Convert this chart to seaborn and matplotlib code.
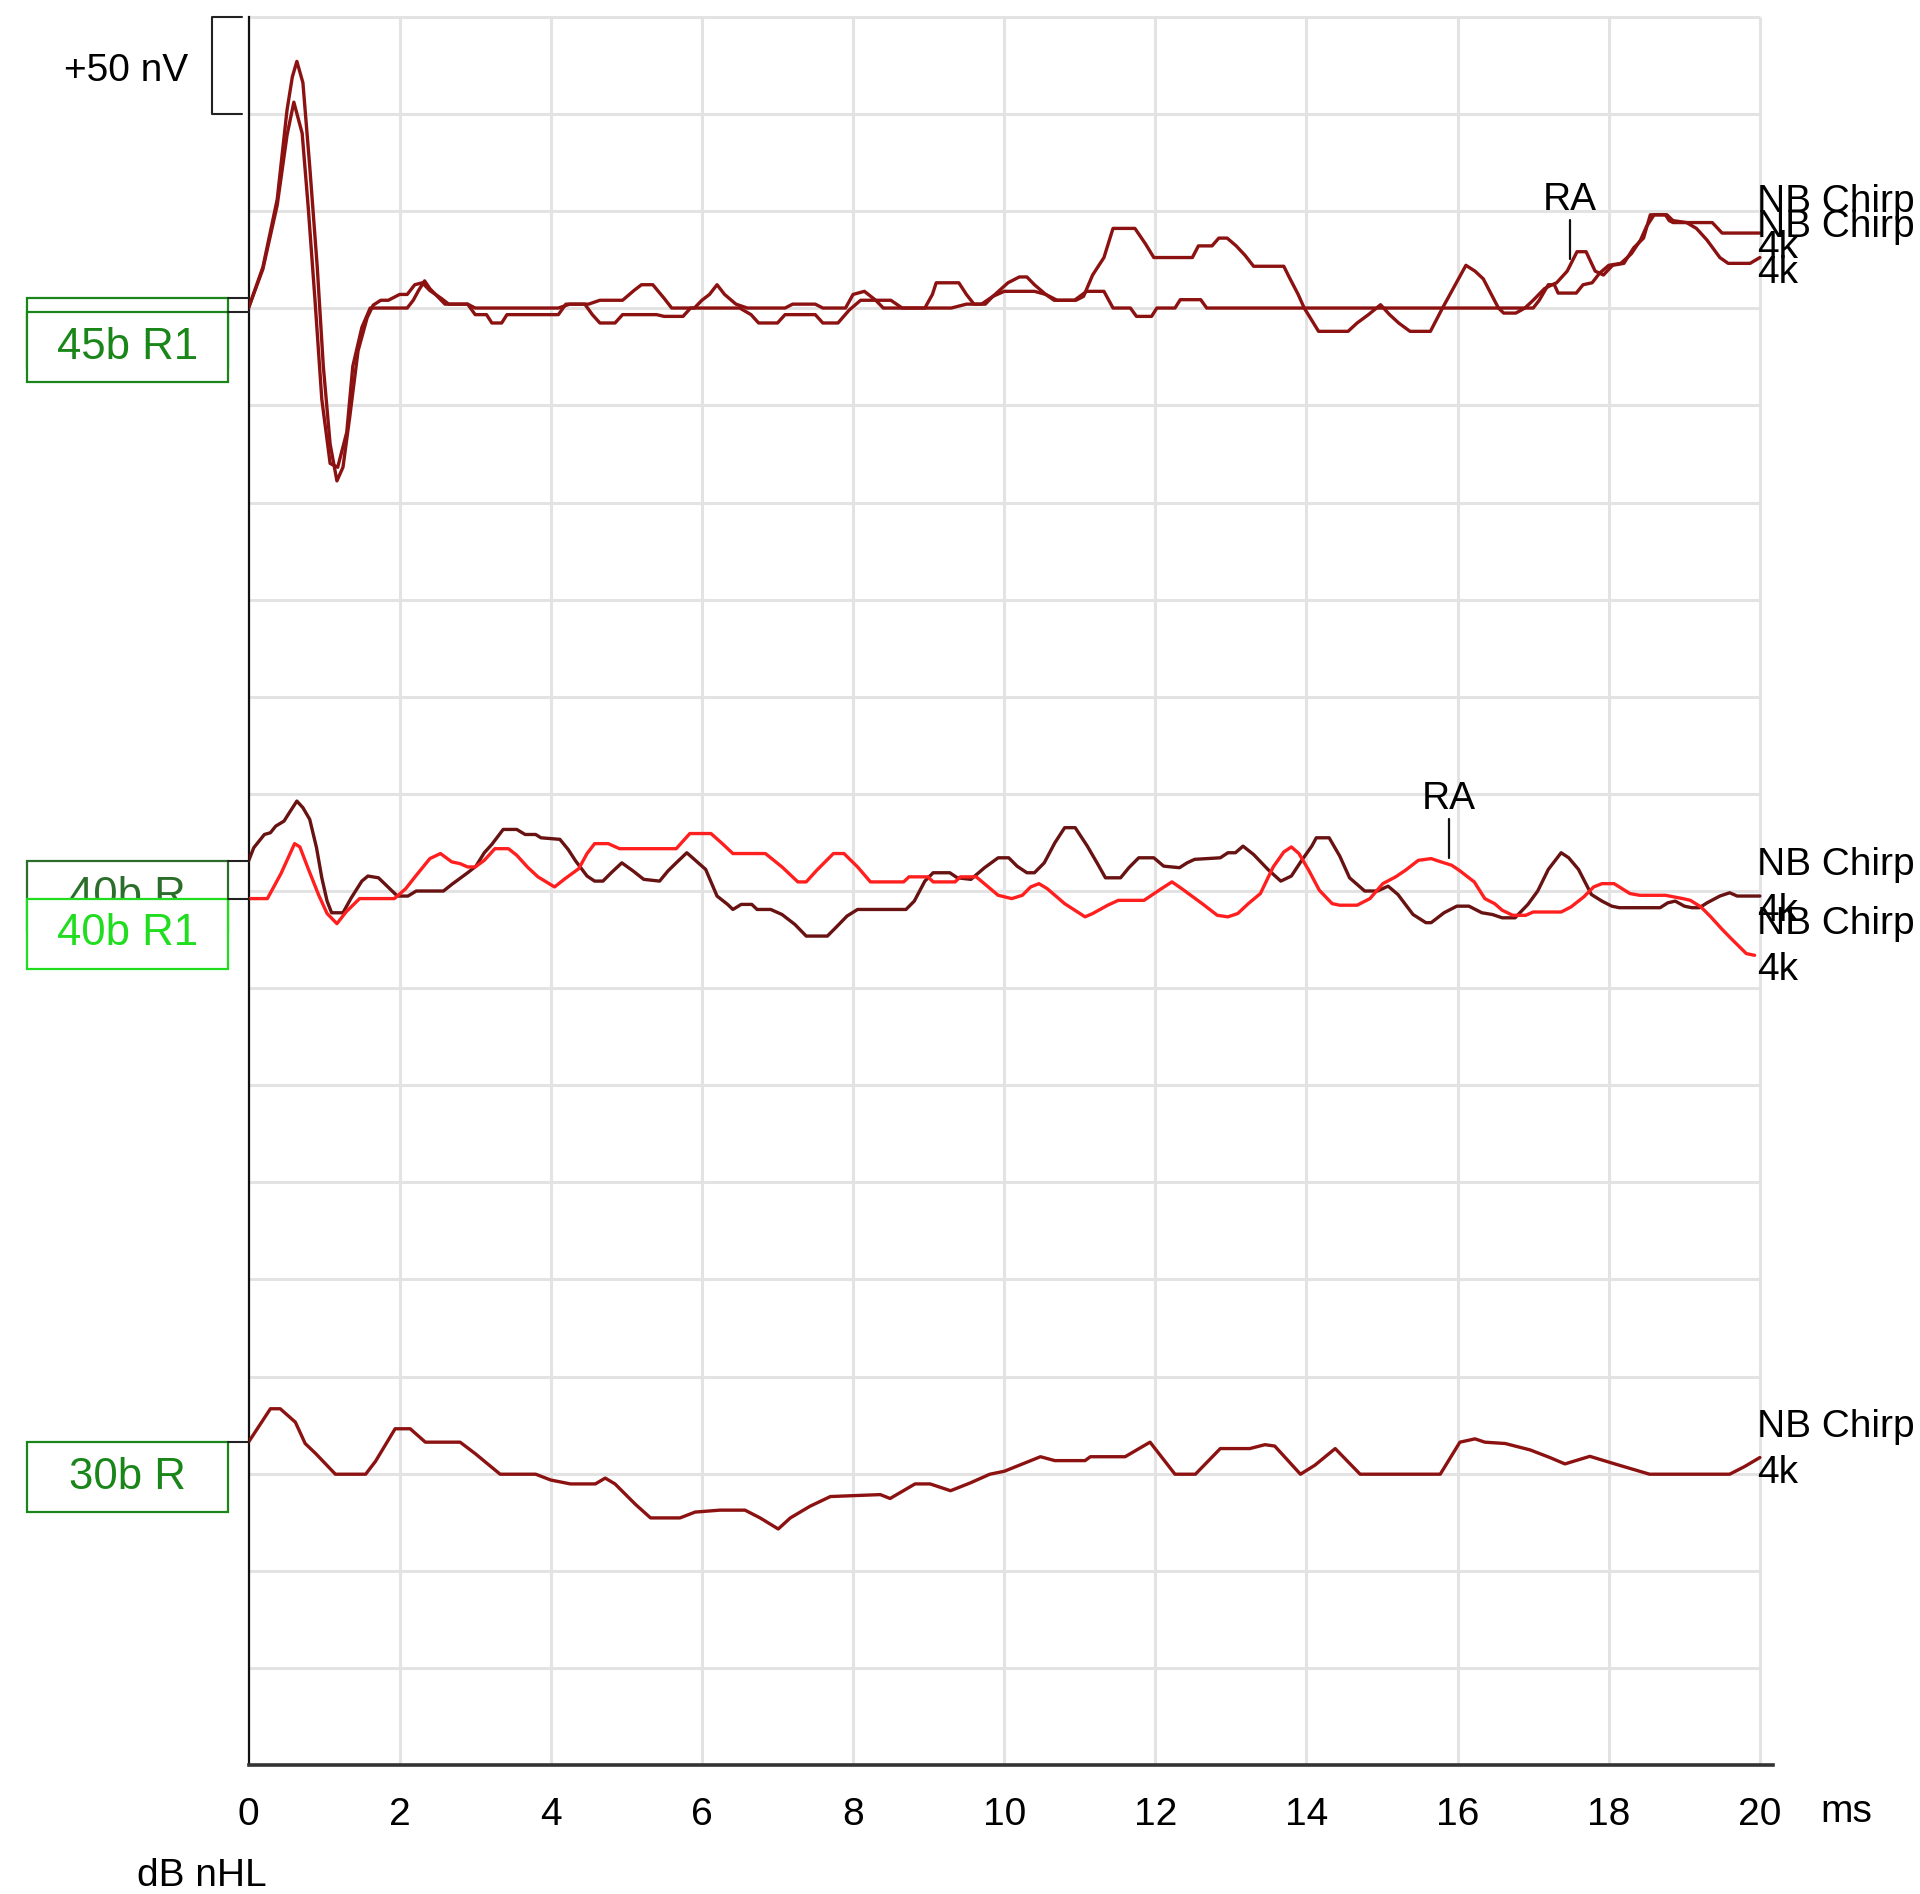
import matplotlib
matplotlib.use("Agg")
import matplotlib.pyplot as plt
from matplotlib.patches import Rectangle
import numpy as np
import pandas as pd
import seaborn as sns

# ------------------------------------------------------------------ data
# 45 dB nHL, trace A (larger wave V-like peak, bump at 11.5 ms, marked RA)
t_45a = [0, 0.19, 0.38, 0.51, 0.58, 0.64, 0.72, 0.81, 0.91, 0.99, 1.08, 1.17, 1.25, 1.34, 1.45, 1.57,
         1.65, 1.75, 1.85, 2.0, 2.1, 2.2, 2.3, 2.4, 2.55, 2.65, 2.9, 3.0, 3.15, 3.22, 3.35, 3.42, 4.1, 4.2,
         4.45, 4.55, 4.65, 4.85, 4.95, 5.4, 5.5, 5.75, 5.85, 6.5, 6.65, 6.75, 7.0, 7.1, 7.5, 7.6, 7.8,
         7.95, 8.1, 8.3, 8.4, 9.3, 9.5, 9.7, 9.85, 10.0, 10.4, 10.55, 10.7, 10.95, 11.05, 11.17, 11.32,
         11.44, 11.73, 11.87, 11.98, 12.49, 12.57, 12.75, 12.84, 12.95, 13.07, 13.19, 13.3, 13.7, 13.77,
         13.89, 13.97, 14.16, 14.55, 14.67, 14.82, 14.98, 15.1, 15.22, 15.37, 15.64, 15.8, 16.11, 16.23,
         16.34, 16.54, 16.61, 16.77, 16.89, 17.0, 17.15, 17.25, 17.31, 17.45, 17.58, 17.7, 17.82, 17.93,
         18.05, 18.2, 18.33, 18.46, 18.55, 18.77, 18.85, 19.03, 19.16, 19.3, 19.47, 19.58, 19.87, 20.0]
nv_45a = [0, 21, 56, 102, 119, 127, 116, 73, 21, -30, -70, -89, -82, -56, -22, -5,
          1.5, 4, 4, 7, 7, 12, 13, 9, 5, 2, 2, -3.4, -3.4, -7.7, -7.7, -3.4, -3.4, 2,
          2, -3.4, -7.7, -7.7, -3.4, -3.4, -4.3, -4.3, 0, 0, -3.4, -7.7, -7.7, -3.4, -3.4, -7.7, -7.7,
          -1, 4, 4, 0, 0, 2, 2, 6, 8.6, 8.6, 7, 4, 4, 6, 17, 26,
          41, 41, 33, 26, 26, 32, 32, 36, 36, 32, 27, 21.5, 21.5, 16,
          7, 0, -12, -12, -7.7, -3.4, 1.7, -3.4, -7.7, -12, -12, 0, 22, 19,
          15, 0, -2.6, -2.6, 0, 4, 10, 12, 13, 19, 29, 29, 19, 17,
          22, 23, 31, 36, 48, 48, 45, 44, 41, 35, 26, 23, 23, 26]

# 45 dB nHL, trace B
t_45b = [0, 0.19, 0.38, 0.51, 0.6, 0.71, 0.79, 0.88, 0.97, 1.08, 1.18, 1.3, 1.38, 1.5, 1.61,
         1.7, 2.1, 2.18, 2.25, 2.33, 2.4, 2.5, 2.6, 2.9, 3.0, 4.1, 4.25, 4.5, 4.65, 4.95, 5.1, 5.2, 5.35,
         5.5, 5.6, 5.9, 6.0, 6.1, 6.2, 6.3, 6.45, 6.6, 7.1, 7.2, 7.5, 7.6, 7.9, 8.0, 8.15, 8.3, 8.5, 8.65,
         8.95, 9.05, 9.1, 9.4, 9.5, 9.6, 9.75, 9.85, 10.05, 10.2, 10.3, 10.4, 10.55, 10.66, 10.93, 11.0,
         11.09, 11.32, 11.44, 11.67, 11.75, 11.95, 12.02, 12.26, 12.33, 12.6, 12.68, 17.0, 17.08, 17.2,
         17.28, 17.33, 17.57, 17.66, 17.78, 17.88, 18.0, 18.16, 18.3, 18.42, 18.5, 18.6, 18.75, 18.8,
         18.85, 19.37, 19.5, 20.0]
nv_45b = [0, 20, 53, 89, 106, 90, 52, 4, -47, -80, -82, -64, -30, -10, 0,
          0, 0, 4, 9, 14, 10, 6, 2, 2, 0, 0, 2, 2, 4, 4, 9, 12, 12,
          5, 0, 0, 4, 7, 12, 7, 2, 0, 0, 2, 2, 0, 0, 7, 8.6, 4, 4, 0,
          0, 7, 13, 13, 7, 2, 2, 6, 13, 16, 16, 12, 7, 4, 4, 6,
          8.6, 8.6, 0, 0, -4.3, -4.3, 0, 0, 4.3, 4.3, 0, 0, 4, 12,
          12, 7.7, 7.7, 12, 13, 18, 22, 23, 28, 35, 42, 48, 48, 45,
          44, 44, 38.6, 38.6]

# 40 dB nHL, dark trace ("40b R")
t_40r = [0, 0.07, 0.21, 0.29, 0.36, 0.47, 0.54, 0.64, 0.72, 0.81, 0.9, 0.97, 1.04, 1.1, 1.25, 1.36, 1.5,
         1.58, 1.72, 1.9, 1.97, 2.11, 2.22, 2.58, 2.69, 2.9, 3.01, 3.12, 3.22, 3.37, 3.55, 3.66, 3.8, 3.87,
         4.12, 4.23, 4.33, 4.48, 4.58, 4.69, 4.8, 4.94, 5.09, 5.23, 5.44, 5.55, 5.66, 5.8, 5.95, 6.05, 6.2,
         6.34, 6.41, 6.52, 6.66, 6.73, 6.91, 7.06, 7.23, 7.38, 7.66, 7.77, 7.92, 8.06, 8.7, 8.81, 8.95,
         9.06, 9.28, 9.38, 9.56, 9.74, 9.92, 10.06, 10.17, 10.3, 10.4, 10.53, 10.67, 10.8, 10.94, 11.1,
         11.24, 11.34, 11.54, 11.65, 11.78, 11.98, 12.11, 12.32, 12.42, 12.52, 12.86, 12.96, 13.06, 13.16,
         13.3, 13.49, 13.66, 13.8, 13.93, 14.07, 14.13, 14.3, 14.44, 14.57, 14.77, 14.94, 15.08, 15.21,
         15.41, 15.58, 15.65, 15.82, 15.99, 16.15, 16.32, 16.46, 16.59, 16.76, 16.93, 17.06, 17.2, 17.37,
         17.47, 17.6, 17.77, 17.91, 18.04, 18.14, 18.68, 18.78, 18.88, 19.0, 19.1, 19.2, 19.3, 19.47,
         19.6, 19.7, 20.0]
nv_40r = [0, 6.9, 13.7, 14.6, 18.0, 20.6, 24.9, 30.9, 27.5, 21.5, 6.9, -8.6, -20.6, -26.6, -26.6, -18.9, -10.3,
          -7.7, -8.6, -15.4, -18.0, -18.0, -15.4, -15.4, -12.0, -6.0, -2.6, 4.3, 8.6, 16.3, 16.3, 13.7, 13.7, 12.0,
          11.2, 6.0, 0, -7.7, -10.3, -10.3, -6.0, -0.9, -5.1, -9.4, -10.3, -5.1, -0.9, 4.3, -0.9, -4.3, -18.0,
          -22.3, -24.9, -22.3, -22.3, -24.9, -24.9, -27.5, -32.6, -38.6, -38.6, -34.3, -28.3, -24.9, -24.9, -20.6, -10.3,
          -6.0, -6.0, -8.6, -9.4, -3.4, 1.7, 1.7, -2.6, -6.0, -6.0, -0.9, 9.4, 17.2, 17.2, 7.7,
          -1.7, -8.6, -8.6, -3.4, 1.7, 1.7, -2.6, -3.4, -0.9, 0.9, 1.7, 4.3, 4.3, 7.7,
          3.4, -4.3, -10.3, -7.7, 0, 7.7, 12.0, 12.0, 2.6, -8.6, -15.4, -15.4, -12.9, -17.2,
          -27.5, -31.7, -31.7, -26.6, -23.2, -23.2, -26.6, -27.5, -29.2, -29.2, -22.3, -15.4, -4.3, 4.3,
          1.7, -4.3, -17.2, -20.6, -23.2, -24.0, -24.0, -21.5, -20.6, -23.2, -24.0, -24.0, -21.5, -18.0,
          -16.3, -18.0, -18.0]

# 40 dB nHL, red trace ("40b R1", marked RA)
t_40r1 = [0, 0.25, 0.43, 0.61, 0.68, 0.79, 0.93, 1.04, 1.17, 1.29, 1.47, 1.93, 2.08, 2.22, 2.4, 2.54, 2.69,
          2.8, 2.9, 3.0, 3.12, 3.26, 3.44, 3.55, 3.69, 3.83, 4.05, 4.19, 4.37, 4.48, 4.58, 4.76, 4.91, 5.66,
          5.84, 6.12, 6.27, 6.41, 6.84, 7.06, 7.27, 7.38, 7.52, 7.74, 7.88, 8.06, 8.23, 8.67, 8.74, 8.99,
          9.06, 9.35, 9.42, 9.63, 9.92, 10.1, 10.24, 10.35, 10.46, 10.57, 10.8, 11.07, 11.17, 11.37, 11.51,
          11.85, 12.08, 12.22, 12.35, 12.62, 12.82, 12.96, 13.09, 13.23, 13.39, 13.56, 13.7, 13.8, 13.9,
          14.03, 14.17, 14.34, 14.44, 14.67, 14.84, 15.01, 15.18, 15.31, 15.48, 15.65, 15.78, 15.92, 16.02,
          16.22, 16.36, 16.49, 16.59, 16.73, 16.9, 17.0, 17.37, 17.5, 17.67, 17.8, 17.91, 18.07, 18.28,
          18.41, 18.75, 18.98, 19.08, 19.22, 19.35, 19.49, 19.62, 19.82, 19.93]
nv_40r1 = [0, 0, 12.9, 28.3, 26.6, 15.4, 1.7, -7.7, -12.9, -6.9, 0, 0, 5.1, 12.0, 20.6, 23.2, 18.9,
           18.0, 16.3, 16.3, 19.7, 25.7, 25.7, 22.3, 16.3, 11.2, 6.0, 10.3, 15.4, 23.2, 28.3, 28.3, 25.7, 25.7,
           33.5, 33.5, 28.3, 23.2, 23.2, 16.3, 8.6, 8.6, 14.6, 23.2, 23.2, 16.3, 8.6, 8.6, 11.2, 11.2,
           8.6, 8.6, 11.2, 11.2, 1.7, 0, 1.7, 6.0, 7.7, 5.1, -2.6, -9.4, -7.7, -3.4, -0.9,
           -0.9, 5.1, 8.6, 5.1, -2.6, -8.6, -9.4, -7.7, -2.6, 2.6, 16.3, 24.0, 26.6, 23.2,
           14.6, 4.3, -2.6, -3.4, -3.4, 0, 7.7, 11.2, 14.6, 19.7, 20.6, 18.9, 17.2, 14.6,
           8.6, 0, -2.6, -6.0, -8.6, -8.6, -6.9, -6.9, -4.3, 0.9, 6.0, 7.7, 7.7, 2.6,
           1.7, 1.7, 0, -0.9, -4.3, -9.4, -15.4, -20.6, -28.3, -29.2]

# 30 dB nHL trace ("30b R")
t_30r = [0, 0.29, 0.42, 0.62, 0.75, 0.89, 1.15, 1.55, 1.68, 1.94, 2.14, 2.34, 2.8, 3.0, 3.33, 3.8, 4.0,
         4.26, 4.59, 4.72, 4.85, 5.12, 5.32, 5.71, 5.91, 6.24, 6.57, 6.77, 7.01, 7.17, 7.43, 7.7, 8.36,
         8.49, 8.82, 9.02, 9.29, 9.55, 9.81, 10.0, 10.48, 10.67, 11.07, 11.14, 11.6, 11.93, 12.26, 12.53,
         12.86, 13.25, 13.45, 13.58, 13.92, 14.11, 14.38, 14.71, 15.77, 16.03, 16.23, 16.36, 16.63, 16.96,
         17.22, 17.42, 17.75, 18.08, 18.54, 19.6, 19.8, 20.0]
nv_30r = [0, 17.2, 17.2, 10.3, -0.7, -5.9, -16.5, -16.5, -9.9, 6.9, 6.9, 0, 0, -5.9, -16.5, -16.5, -19.5,
          -21.5, -21.5, -18.5, -21.5, -32, -39, -39, -36, -35, -35, -39, -44.7, -39, -33, -28, -27,
          -29, -21.5, -21.5, -25, -21, -16.5, -15, -7.5, -9.5, -9.5, -7.5, -7.5, 0, -16.5, -16.5,
          -3.3, -3.3, -1.3, -2, -16.5, -11.9, -3.3, -16.5, -16.5, 0, 1.7, 0, -0.7, -4,
          -7.9, -11.2, -7.3, -11.2, -16.5, -16.5, -12.5, -7.9]

x_ticks = [0, 2, 4, 6, 8, 10, 12, 14, 16, 18, 20]
x_tick_labels = ["0", "2", "4", "6", "8", "10", "12", "14", "16", "18", "20"]
trace_names = ["45b R", "45b R1", "40b R", "40b R1", "30b R"]
trace_stim = ["NB Chirp", "NB Chirp", "NB Chirp", "NB Chirp", "NB Chirp"]
trace_freq = ["4k", "4k", "4k", "4k", "4k"]
ra_times = [17.49, 15.88]          # ms, RA marker on 45b trace A and 40b R1
scale_label = "+50 nV"
scale_nv = 50

# ------------------------------------------------------------------ layout / style
W, H = 1920, 1894
AX_L, AX_R, AX_T, AX_B = 248.5, 1773.0, 17.0, 1765.0
PX_PER_MS = 75.57
PX_PER_NV = 97.1 / 50.0

def mx(px):
    return (px - AX_L) / PX_PER_MS

def my(py):
    return -(py - AX_T) / PX_PER_NV

# baseline (start) of each trace, in screen px
base_px = {"45a": 308.0, "45b": 308.0, "40r": 861.0, "40r1": 898.5, "30r": 1442.0}
col_top = "#8c1212"
col_dark = "#681212"
col_red = "#ff1f1f"
grid_col = "#e3e3e3"
FS = 28
LW = 2.4

sns.set_style("white")
plt.rcParams["font.family"] = ["Liberation Sans", "DejaVu Sans"]
plt.rcParams["text.color"] = "black"

fig = plt.figure(figsize=(W / 100, H / 100), dpi=100)
ax = fig.add_axes([AX_L / W, 1 - AX_B / H, (AX_R - AX_L) / W, (AX_B - AX_T) / H])
ax.set_xlim(0, mx(AX_R))
ax.set_ylim(-900, 0)

# grid
for k in range(0, 18):
    ax.hlines(-50 * k, 0, 20, color=grid_col, lw=2.2, zorder=0, clip_on=False)
for t in range(2, 21, 2):
    ax.vlines(t, -900, 0, color=grid_col, lw=2.2, zorder=0, clip_on=False)

traces = [
    ("45a", t_45a, nv_45a, col_top),
    ("45b", t_45b, nv_45b, col_top),
    ("40r", t_40r, nv_40r, col_dark),
    ("40r1", t_40r1, nv_40r1, col_red),
    ("30r", t_30r, nv_30r, col_top),
]
for i, (key, t, v, c) in enumerate(traces):
    off = my(base_px[key])
    df = pd.DataFrame({"ms": t, "nV": np.asarray(v) + off})
    sns.lineplot(data=df, x="ms", y="nV", ax=ax, color=c, lw=LW,
                 estimator=None, sort=False, legend=False, zorder=3)
    yend = df["nV"].iloc[-1]
    ax.annotate(trace_freq[i], xy=(20, yend), xytext=(-3, -15),
                textcoords="offset pixels", ha="left", va="center",
                fontsize=FS, color="black", annotation_clip=False, zorder=5)
    ax.annotate(trace_stim[i], xy=(20, yend), xytext=(-3, 31),
                textcoords="offset pixels", ha="left", va="center",
                fontsize=FS, color="black", annotation_clip=False, zorder=5)

for s in ["top", "right"]:
    ax.spines[s].set_visible(False)
ax.spines["left"].set_color("#111111")
ax.spines["left"].set_linewidth(1.6)
ax.spines["bottom"].set_color("#333333")
ax.spines["bottom"].set_linewidth(2.6)
ax.set_yticks([])
ax.set_xticks(x_ticks)
ax.set_xticklabels(x_tick_labels)
ax.tick_params(axis="x", length=0, pad=23, labelsize=FS, colors="black")
ax.set_xlabel("")
ax.set_ylabel("")

# RA markers
for (key, t, v), ra in zip([("45a", t_45a, nv_45a), ("40r1", t_40r1, nv_40r1)], ra_times):
    yv = np.interp(ra, t, v) + my(base_px[key])
    ax.plot([ra, ra], [yv + 6 / PX_PER_NV, yv + 45 / PX_PER_NV], color="#111111", lw=1.6,
            zorder=5, clip_on=False)
    ax.text(ra, yv + 65 / PX_PER_NV, "RA", ha="center", va="center", fontsize=FS,
            color="black", zorder=5, clip_on=False)

# label boxes on the left
box_tops = [298, 312, 861, 898.5, 1442]
box_cols = ["#1a861a", "#1a861a", "#2b6e2b", "#20dd20", "#1a861a"]
BOX_X0, BOX_X1, BOX_H = 27, 228, 70
for i, (name, top, c) in enumerate(zip(trace_names, box_tops, box_cols)):
    z = 10 + i
    rect = Rectangle((mx(BOX_X0), my(top + BOX_H)), mx(BOX_X1) - mx(BOX_X0), BOX_H / PX_PER_NV,
                     facecolor="white", edgecolor=c, lw=1.6, clip_on=False, zorder=z)
    ax.add_patch(rect)
    ax.text(mx((BOX_X0 + BOX_X1) / 2), my(top + BOX_H / 2), name, ha="center", va="center",
            fontsize=31.5, color=c, clip_on=False, zorder=z + 0.5)
    ax.plot([mx(BOX_X1), 0], [my(top), my(top)], color="#222222", lw=1.5, clip_on=False, zorder=20)

# scale bar
bx0, bx1, by0 = 212, 242, 17
by1 = by0 + scale_nv * PX_PER_NV
ax.plot([mx(bx1), mx(bx0), mx(bx0), mx(bx1)], [my(by0), my(by0), my(by1), my(by1)],
        color="#222222", lw=1.5, clip_on=False, zorder=5)
ax.text(mx(188), my(71), scale_label, ha="right", va="center", fontsize=FS, color="black",
        clip_on=False)

fig.text(1846 / W, 1 - 1812 / H, "ms", ha="center", va="center", fontsize=FS, color="black")
fig.text(202 / W, 1 - 1876 / H, "dB nHL", ha="center", va="center", fontsize=FS, color="black")

fig.savefig("out.png", dpi=100, facecolor="white")
